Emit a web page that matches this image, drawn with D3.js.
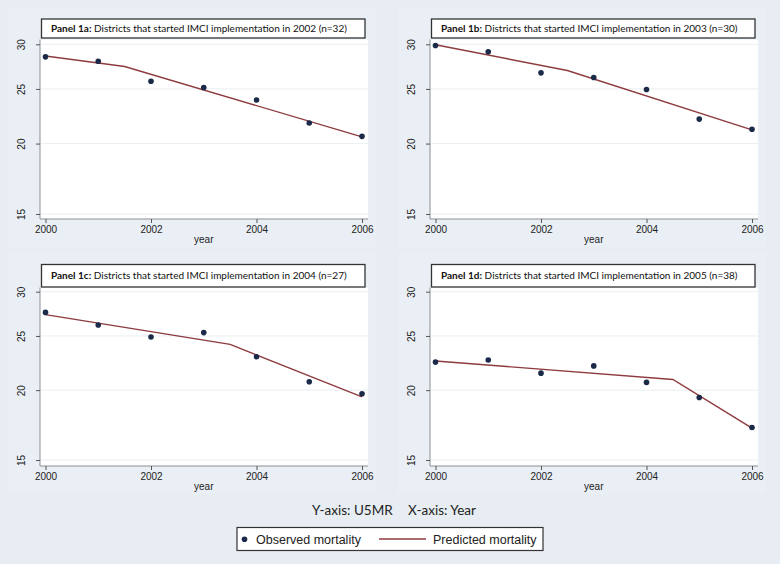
<!DOCTYPE html>
<html><head><meta charset="utf-8">
<script src="https://cdn.jsdelivr.net/npm/d3@7"></script>
<style>html,body{margin:0;padding:0;background:#e7edf3;}svg{display:block;}</style>
</head><body>
<svg id="c" width="780" height="564"></svg>
<script>
const years = [2000, 2001, 2002, 2003, 2004, 2005, 2006];
const panelIds = ["1a", "1b", "1c", "1d"];
const startYears = [2002, 2003, 2004, 2005];
const nDistricts = [32, 30, 27, 38];
const observed1a = [28.5, 28.0, 25.8, 25.15, 23.9, 21.75, 20.6];
const observed1b = [29.85, 29.1, 26.7, 26.2, 24.95, 22.1, 21.2];
const observed1c = [27.55, 26.15, 24.9, 25.35, 22.95, 20.7, 19.7];
const observed1d = [22.45, 22.65, 21.45, 22.1, 20.65, 19.4, 17.15];
const knotYears = [2001.5, 2002.5, 2003.5, 2004.5];
const predicted1a = [28.6, 27.4, 20.55];
const predicted1b = [29.95, 26.95, 21.15];
const predicted1c = [27.3, 24.15, 19.45];
const predicted1d = [22.55, 20.9, 17.1];
const yTicks = [15, 20, 25, 30];
const xTicks = [2000, 2002, 2004, 2006];

const observed = [observed1a, observed1b, observed1c, observed1d];
const predicted = [predicted1a, predicted1b, predicted1c, predicted1d];

const svg = d3.select("#c");
const dotColor = "#1b2a48", lineColor = "#8e3b3f";

const layouts = [
  {ox: 0, boxTop: 19, boxBot: 38, plotTop: 39.5, axisY: 219, y30: 44.3, y15: 214},
  {ox: 390, boxTop: 19, boxBot: 38, plotTop: 39.5, axisY: 219, y30: 44.3, y15: 214},
  {ox: 0, boxTop: 264.5, boxBot: 287, plotTop: 287.5, axisY: 466, y30: 291.7, y15: 460},
  {ox: 390, boxTop: 264.5, boxBot: 287, plotTop: 287.5, axisY: 466, y30: 291.7, y15: 460}
];

layouts.forEach((L, i) => {
  const g = svg.append("g").attr("transform", `translate(${L.ox},0)`);
  const left = 40, right = 368;
  g.append("rect").attr("x", 8).attr("y", L.boxTop - 12).attr("width", 368).attr("height", L.axisY - L.boxTop + 40)
    .attr("fill", "#e9eff5");
  const x = d3.scaleLinear().domain([2000, 2006]).range([45.5, 362]);
  const y = d3.scaleLog().domain([15, 30]).range([L.y15, L.y30]);
  g.append("rect").attr("x", left).attr("y", L.plotTop).attr("width", right - left).attr("height", L.axisY - L.plotTop)
    .attr("fill", "#ffffff");
  g.selectAll(".grid").data(yTicks).enter().append("line")
    .attr("x1", left + 1).attr("x2", right).attr("y1", d => y(d)).attr("y2", d => y(d))
    .attr("stroke", "#e9eef3").attr("stroke-width", 1);
  const ax = g.append("g").attr("transform", `translate(0,${L.axisY})`)
    .call(d3.axisBottom(x).tickValues(xTicks).tickFormat(d3.format("d")).tickSize(4).tickPadding(3));
  ax.select(".domain").attr("d", `M${left},0H${right}`).attr("stroke", "#8a8f96");
  ax.selectAll(".tick line").attr("stroke", "#555");
  ax.selectAll("text").attr("font-family", "Liberation Sans, Arial, sans-serif").attr("font-size", 10).attr("fill", "#222");
  const ay = g.append("g").attr("transform", `translate(${left},0)`)
    .call(d3.axisLeft(y).tickValues(yTicks).tickFormat(d3.format("d")).tickSize(4).tickPadding(3));
  ay.select(".domain").attr("d", `M0,${L.plotTop}V${L.axisY}`).attr("stroke", "#8a8f96");
  ay.selectAll(".tick line").attr("stroke", "#555");
  ay.selectAll("text").attr("font-family", "Liberation Sans, Arial, sans-serif").attr("font-size", 10).attr("fill", "#222")
    .attr("text-anchor", "middle")
    .attr("transform", "translate(-6,0) rotate(-90)")
    .attr("x", 0).attr("y", 0).attr("dy", "-0.9em");
  g.append("text").attr("x", (x(2000) + x(2006)) / 2).attr("y", L.axisY + 24)
    .attr("text-anchor", "middle").attr("font-family", "Liberation Sans, Arial, sans-serif").attr("font-size", 10)
    .attr("fill", "#222").text("year");
  const pYears = [2000, knotYears[i], 2006];
  const pts = pYears.map((yr, k) => [yr, predicted[i][k]]);
  g.append("path").datum(pts)
    .attr("d", d3.line().x(d => x(d[0])).y(d => y(d[1])))
    .attr("fill", "none").attr("stroke", lineColor).attr("stroke-width", 1.4);
  g.selectAll(".pt").data(years.map((yr, k) => [yr, observed[i][k]])).enter().append("circle")
    .attr("cx", d => x(d[0])).attr("cy", d => y(d[1])).attr("r", 2.8).attr("fill", dotColor);
  g.append("rect").attr("x", 41.5).attr("y", L.boxTop).attr("width", 323.5).attr("height", L.boxBot - L.boxTop)
    .attr("fill", "#ffffff").attr("stroke", "#333").attr("stroke-width", 1.3);
  const t = g.append("text").attr("x", 51).attr("y", (L.boxTop + L.boxBot) / 2 + 3.6)
    .attr("font-family", "Lato, 'Open Sans', sans-serif").attr("font-size", 10).attr("fill", "#111");
  t.append("tspan").attr("font-weight", "bold").text(`Panel ${panelIds[i]}:`);
  t.append("tspan").text(` Districts that started IMCI implementation in ${startYears[i]} (n=${nDistricts[i]})`);
});

svg.append("text").attr("x", 312).attr("y", 515).attr("font-family", "Lato, 'Open Sans', sans-serif")
  .attr("font-size", 13.5).attr("fill", "#222").text("Y-axis: U5MR");
svg.append("text").attr("x", 408).attr("y", 515).attr("font-family", "Lato, 'Open Sans', sans-serif")
  .attr("font-size", 13.5).attr("fill", "#222").text("X-axis: Year");

const lg = svg.append("g");
lg.append("rect").attr("x", 237).attr("y", 527.5).attr("width", 306).attr("height", 23)
  .attr("fill", "#ffffff").attr("stroke", "#333").attr("stroke-width", 1.2);
lg.append("circle").attr("cx", 244.5).attr("cy", 539.3).attr("r", 2.8).attr("fill", dotColor);
lg.append("text").attr("x", 256).attr("y", 544).attr("font-family", "Liberation Sans, Arial, sans-serif")
  .attr("font-size", 12.5).attr("fill", "#222").text("Observed mortality");
lg.append("line").attr("x1", 379).attr("x2", 426).attr("y1", 539).attr("y2", 539)
  .attr("stroke", lineColor).attr("stroke-width", 1.4);
lg.append("text").attr("x", 433).attr("y", 544).attr("font-family", "Liberation Sans, Arial, sans-serif")
  .attr("font-size", 12.5).attr("fill", "#222").text("Predicted mortality");
</script>
</body></html>
